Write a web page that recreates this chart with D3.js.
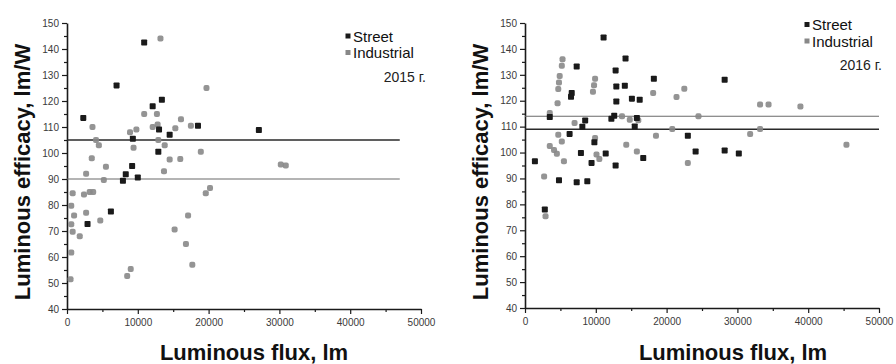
<!DOCTYPE html>
<html>
<head>
<meta charset="utf-8">
<script src="https://cdn.jsdelivr.net/npm/d3@7"></script>
<style>
  html, body { margin: 0; padding: 0; background: #fff; }
  svg { display: block; font-family: Arial, "Liberation Sans", sans-serif; }
</style>
</head>
<body>
<svg id="chart" width="896" height="364"></svg>
<script>
// Luminous flux (lm) vs luminous efficacy (lm/W), [flux, efficacy] pairs
const street2015 = [
  [10900,142.5],[7000,126],[2300,113.5],[13400,120.5],[12100,118],[9300,105.5],
  [13000,109],[12900,100.5],[14500,107],[18500,110.5],[9200,95],[8300,91.8],
  [7900,89.3],[10000,90.6],[6200,77.5],[2900,72.7],[27100,108.8]
];
const industrial2015 = [
  [13200,144],[3600,110],[10900,115],[12700,115],[19700,125],[4100,105],[4500,103],
  [8900,108],[9800,109],[9400,102],[12100,110],[12800,111],[12900,105],[13800,103],
  [15300,109.5],[16100,113],[17500,110.5],[18900,100.5],[14500,97.5],[16000,97.7],
  [13700,93],[3500,98],[5500,94.7],[2700,92],[5200,89.6],[20200,86.5],[800,84.5],
  [2400,84],[3200,85],[3700,85],[19600,84.5],[600,79.7],[1000,76],[2700,77],[4700,74],
  [600,72.6],[800,69.7],[1800,68],[600,61.7],[500,51.4],[15200,70.6],[17100,76],
  [16800,65],[17700,57],[9000,55.4],[8500,52.7],[30200,95.6],[30900,95.2]
];
const street2016 = [
  [11100,144.4],[14200,136.3],[7300,133.2],[6600,123],[6500,121.5],[12800,131.7],
  [12900,125.5],[14100,125.8],[12900,119.7],[15100,120.8],[16200,120.4],[18200,128.5],
  [3500,113.7],[8500,112.4],[8100,110],[6300,107.2],[9800,104],[11400,99.6],[7900,99.8],
  [1400,96.6],[9400,96],[12800,95],[12600,114.2],[12200,113],[15800,113.3],[15500,110.1],
  [16700,97.9],[4800,89.3],[7300,88.5],[8800,88.9],[2800,78],[28200,128.1],[23000,106.5],
  [24100,100.4],[28200,100.8],[30200,99.6]
];
const industrial2016 = [
  [5300,136],[5200,133.5],[4900,129.5],[4800,127],[4700,124.5],[4600,119],[9900,128.5],
  [9750,126],[9600,123.5],[18100,123],[21400,121.4],[22500,124.6],[3500,115.3],[7000,111.4],
  [4700,106.9],[5200,104.3],[3500,102.5],[4100,101],[4500,99.5],[9900,105.6],[10100,99.2],
  [10500,97.5],[5500,96.6],[13700,114],[14800,112.7],[16000,112.5],[14300,103],[15800,100.4],
  [18500,106.5],[20800,109.1],[2700,90.8],[2900,75.4],[24500,114],[23000,96],[31800,107.2],
  [33200,109.1],[33200,118.5],[34400,118.5],[38900,117.8],[45400,103]
];

// Average efficacy levels: [value, end flux, kind]
const levels2015 = [[105, 47000, "dark"], [90, 47000, "light"]];
const levels2016 = [[114, 50000, "light"], [109, 50000, "dark"]];

const yTicks = [40, 50, 60, 70, 80, 90, 100, 110, 120, 130, 140, 150];
const xTicks = [0, 10000, 20000, 30000, 40000, 50000];
const seriesNames = ["Street", "Industrial"];
const yearLabels = ["2015 г.", "2016 г."];
const xTitle = "Luminous flux, lm";
const yTitle = "Luminous efficacy, lm/W";

const svg = d3.select("#chart");
const INK = "#1a1a1a";
const GREY = "#888888";

function drawPanel(p) {
  const x = d3.scaleLinear().domain([0, 50000]).range([p.x0, p.x1]);
  const y = d3.scaleLinear().domain([40, 150]).range([p.y0, p.y1]);
  const g = svg.append("g");

  // axes: major ticks with labels, minor ticks at the half steps
  const xAxis = d3.axisBottom(x).tickValues(xTicks).tickFormat(d3.format("d"))
    .tickSize(5).tickSizeOuter(0);
  const gx = g.append("g").attr("transform", `translate(0,${p.y0})`).call(xAxis);
  gx.selectAll(".tick text").attr("dy", "0.9em");
  const xMinor = d3.axisBottom(x).tickValues(d3.range(5000, 50000, 10000))
    .tickFormat("").tickSize(3).tickSizeOuter(0);
  g.append("g").attr("transform", `translate(0,${p.y0})`).call(xMinor)
    .select(".domain").remove();

  const yAxis = d3.axisLeft(y).tickValues(yTicks).tickSize(5).tickSizeOuter(0);
  g.append("g").attr("transform", `translate(${p.x0},0)`).call(yAxis);
  const yMinor = d3.axisLeft(y).tickValues(d3.range(45, 150, 10))
    .tickFormat("").tickSize(3).tickSizeOuter(0);
  g.append("g").attr("transform", `translate(${p.x0},0)`).call(yMinor)
    .select(".domain").remove();

  g.selectAll(".domain").attr("stroke", INK).attr("stroke-width", 1.6);
  g.selectAll(".tick line").attr("stroke", INK).attr("stroke-width", 1.2);
  g.selectAll(".tick text").attr("fill", "#3a3a3a").attr("font-size", 10)
    .attr("font-family", "Arial, 'Liberation Sans', sans-serif");

  // average level lines
  g.selectAll("line.level").data(p.levels).enter().append("line")
    .attr("class", "level")
    .attr("x1", x(0)).attr("x2", d => x(d[1]))
    .attr("y1", d => y(d[0])).attr("y2", d => y(d[0]))
    .attr("stroke", d => d[2] === "dark" ? "#2a2a2a" : "#6a6a6a")
    .attr("stroke-width", d => d[2] === "dark" ? 1.6 : 1.1);

  // points
  g.selectAll("rect.ind").data(p.industrial).enter().append("rect")
    .attr("class", "ind")
    .attr("x", d => x(d[0]) - 3).attr("y", d => y(d[1]) - 3)
    .attr("width", 6).attr("height", 6).attr("rx", 2)
    .attr("fill", GREY).attr("opacity", 0.9);
  g.selectAll("rect.str").data(p.street).enter().append("rect")
    .attr("class", "str")
    .attr("x", d => x(d[0]) - 3).attr("y", d => y(d[1]) - 3)
    .attr("width", 6).attr("height", 6).attr("rx", 0.8)
    .attr("fill", INK);

  // legend
  const lg = g.append("g");
  seriesNames.forEach((name, i) => {
    const cy = p.legY + i * 16.5;
    lg.append("rect").attr("x", p.legX - 2.5).attr("y", cy - 2.5)
      .attr("width", 5).attr("height", 5)
      .attr("fill", i === 0 ? INK : GREY);
    lg.append("text").attr("x", p.legX + 5).attr("y", cy + 5.5)
      .attr("font-size", 15).attr("fill", "#111").text(name);
  });
  lg.append("text").attr("x", p.yearX).attr("y", p.yearY)
    .attr("text-anchor", "end").attr("font-size", 14).attr("fill", "#222")
    .text(p.year);

  // axis titles
  g.append("text").attr("x", p.xTitleX).attr("y", 360)
    .attr("text-anchor", "middle").attr("font-size", 22).attr("font-weight", "bold")
    .attr("fill", "#111").text(xTitle);
  g.append("text")
    .attr("transform", `translate(${p.x0 - 37},${172}) rotate(-90)`)
    .attr("text-anchor", "middle").attr("font-size", 22).attr("font-weight", "bold")
    .attr("fill", "#111").text(yTitle);
}

drawPanel({
  x0: 67, x1: 421, y0: 309, y1: 23,
  street: street2015, industrial: industrial2015, levels: levels2015,
  legX: 348, legY: 36, yearX: 426, yearY: 82, year: yearLabels[0], xTitleX: 254
});
drawPanel({
  x0: 525, x1: 879, y0: 308, y1: 23,
  street: street2016, industrial: industrial2016, levels: levels2016,
  legX: 807, legY: 24.5, yearX: 882, yearY: 70, year: yearLabels[1], xTitleX: 733
});
</script>
</body>
</html>
